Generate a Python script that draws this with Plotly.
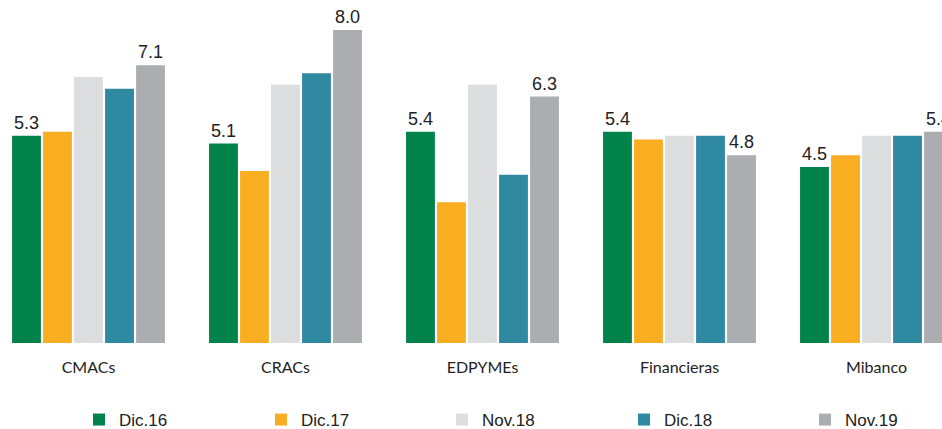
import plotly.graph_objects as go

categories = ["CMACs", "CRACs", "EDPYMEs", "Financieras", "Mibanco"]
series_names = ["Dic.16", "Dic.17", "Nov.18", "Dic.18", "Nov.19"]
dic16 = [5.3, 5.1, 5.4, 5.4, 4.5]
dic17 = [5.4, 4.4, 3.6, 5.2, 4.8]
nov18 = [6.8, 6.6, 6.6, 5.3, 5.3]
dic18 = [6.5, 6.9, 4.3, 5.3, 5.3]
nov19 = [7.1, 8.0, 6.3, 4.8, 5.4]
colors = ["#00834A", "#F9AE22", "#DCDDDF", "#2E89A1", "#ACADB1"]
labelled = [True, False, False, False, True]
legend_ids = ["legend", "legend2", "legend3", "legend4", "legend5"]
legend_centers_px = [99, 281, 462, 644, 825]

W, H = 942, 429
fig = go.Figure()
for name, vals, col, lab, lid in zip(series_names, [dic16, dic17, nov18, dic18, nov19], colors, labelled, legend_ids):
    fig.add_trace(go.Bar(
        x=categories, y=vals, name=name, marker_color=col, marker_line_width=0,
        text=[f"{v:.1f}" for v in vals] if lab else None,
        textposition="outside" if lab else "none",
        textfont=dict(family="Liberation Sans, Arial, sans-serif", size=18, color="#222222"),
        constraintext="none", cliponaxis=False, legend=lid,
    ))

legend_font = dict(family="Liberation Sans, Arial, sans-serif", size=17, color="#222222")
layout_legends = {}
for lid, cx in zip(legend_ids, legend_centers_px):
    layout_legends[lid] = dict(
        orientation="h", x=(cx - 20) / W, xanchor="left",
        y=-(420 - 343) / 343, yanchor="middle",
        font=legend_font, bgcolor="rgba(0,0,0,0)", borderwidth=0,
    )

fig.update_layout(
    width=W, height=H,
    margin=dict(l=0, r=0, t=0, b=86, autoexpand=False),
    barmode="group", bargap=0.213, bargroupgap=0.07,
    plot_bgcolor="white", paper_bgcolor="white",
    showlegend=True,
    xaxis=dict(range=[-0.4492, 4.3325], showgrid=False, showline=False, ticks="",
               automargin=False, ticklabelstandoff=13,
               tickfont=dict(family="Lato, Open Sans, sans-serif", size=16, color="#222222")),
    yaxis=dict(range=[0, 8.77], visible=False, showgrid=False, zeroline=False),
    **layout_legends,
)

fig.write_html("out.html")
